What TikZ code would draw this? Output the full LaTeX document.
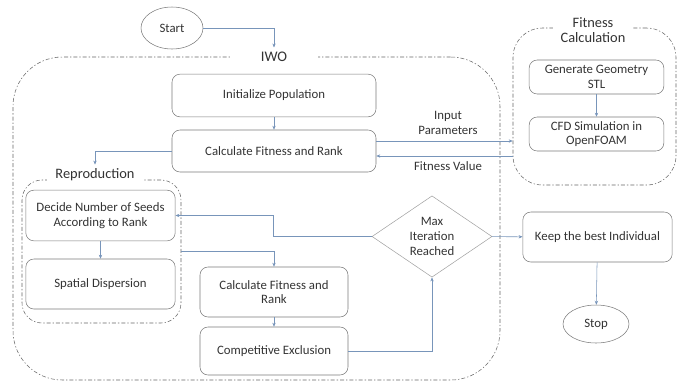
\documentclass[tikz,border=0pt]{standalone}
\usepackage{fontspec}
\setmainfont{Carlito}
\usetikzlibrary{shapes.geometric,arrows.meta}
\definecolor{txtgray}{HTML}{333333}
\definecolor{boxgray}{HTML}{7A7A7A}
\definecolor{lnblue}{HTML}{7895BA}
\begin{document}
\begin{tikzpicture}[x=0.75pt, y=-0.75pt,
    every node/.style={font=\fontsize{9.6}{11}\selectfont, text=txtgray},
    stepbox/.style={draw=boxgray, rounded corners=6pt, align=center, inner sep=2pt},
    endpoint/.style={draw=boxgray, ellipse, inner sep=0pt},
    decision/.style={draw=boxgray!70, diamond, aspect=1.5, inner sep=0pt, align=center, minimum width=90pt, minimum height=61pt},
    container/.style={draw=black!60, dash pattern=on 3pt off 1.5pt on 1pt off 1.5pt, inner sep=0pt},
    title/.style={fill=white, align=center},
    conn/.style={draw=lnblue, -{Stealth[length=3pt,width=2.5pt]}},
    lbl/.style={align=center}]
    \useasboundingbox (0,0) rectangle (677,383);
    % containers
    \node[container, rounded corners=37pt, minimum width=365.25pt, minimum height=242.25pt] (iwo) at (256.5,218.5) {};
    \node[container, rounded corners=15pt, minimum width=119.25pt, minimum height=107.25pt] (repro) at (101.5,251.5) {};
    \node[container, rounded corners=22pt, minimum width=122.25pt, minimum height=117.75pt] (fitcalc) at (594.5,106.5) {};
    \node[title, minimum width=66pt, font=\fontsize{11}{13}\selectfont] (iwolbl) at (274,57) {IWO};
    \node[title, minimum width=72pt, inner ysep=3pt, font=\fontsize{10.8}{12}\selectfont] (reprolbl) at (95,175) {Reproduction};
    \node[title, minimum width=60pt, inner ysep=0pt, font=\fontsize{10.8}{11.3}\selectfont] (fitlbl) at (593,30) {Fitness\\Calculation};
    % steps
    \node[endpoint, minimum width=46.5pt, minimum height=31.5pt] (start) at (172,28) {Start};
    \node[stepbox, minimum width=153pt, minimum height=32pt] (init) at (274,95.5) {Initialize Population};
    \node[stepbox, minimum width=153pt, minimum height=31.5pt] (calc) at (274,151) {Calculate Fitness and Rank};
    \node[stepbox, minimum width=112pt, minimum height=38pt] (decide) at (100.5,215.5) {Decide Number of Seeds\\According to Rank};
    \node[stepbox, minimum width=112pt, minimum height=37.5pt] (spatial) at (100.5,284) {Spatial Dispersion};
    \node[stepbox, minimum width=111pt, minimum height=37.5pt] (calcb) at (274,292) {Calculate Fitness and\\Rank};
    \node[stepbox, minimum width=111pt, minimum height=36pt] (comp) at (274,351) {Competitive Exclusion};
    \node[decision] (maxit) at (432,236.5) {Max\\Iteration\\Reached};
    \node[stepbox, minimum width=112pt, minimum height=37.5pt] (keep) at (597.5,237) {Keep the best Individual};
    \node[endpoint, minimum width=49.5pt, minimum height=28.5pt] (stop) at (596,324) {Stop};
    \node[stepbox, minimum width=101pt, minimum height=25.5pt] (geom) at (596.5,77) {Generate Geometry\\STL};
    \node[stepbox, minimum width=101pt, minimum height=25.5pt] (cfd) at (596.5,134) {CFD Simulation in\\OpenFOAM};
    \node[lbl] (inlbl) at (448,123) {Input\\Parameters};
    \node[lbl] (fvlbl) at (448,166) {Fitness Value};
    \coordinate (bend) at (273,236.5);
    % connectors
    \draw[conn] (start) -| (iwolbl);
    \draw[conn] (init) -- (calc);
    \draw[conn] (calc) -| (reprolbl);
    \draw[conn] (decide) -- (spatial);
    \draw[conn] (repro.east) -| (calcb.north);
    \draw[conn] (calcb) -- (comp);
    \draw[conn] (comp) -| (maxit.south);
    \draw[conn] (maxit.west) -- (bend) |- (decide.east);
    \draw[conn] (maxit) -- (keep);
    \draw[conn] (keep) -- (stop);
    \draw[conn] (geom) -- (cfd);
    \draw[conn] ([yshift=7.5pt]calc.east) -- ([yshift=7.5pt]calc.east -| fitcalc.west);
    \draw[conn] ([yshift=-3.75pt]calc.east -| fitcalc.west) -- ([yshift=-3.75pt]calc.east);
\end{tikzpicture}
\end{document}
